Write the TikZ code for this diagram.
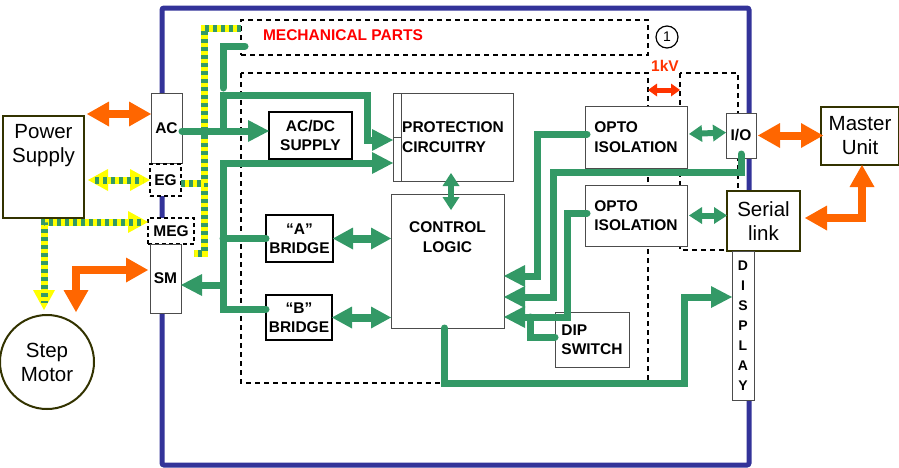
\documentclass[tikz,border=0pt]{standalone}
\usepackage{fontspec}
\setmainfont{Liberation Sans}
\usetikzlibrary{positioning, arrows.meta, calc}
\usepackage{xcolor}
\definecolor{framecol}{HTML}{333399}
\definecolor{flowcol}{HTML}{339966}
\definecolor{pwrcol}{HTML}{FF6600}
\definecolor{gndyel}{HTML}{FFFF00}
\definecolor{extcol}{HTML}{333300}
\definecolor{kvcol}{HTML}{FF3300}

\begin{document}
\begin{tikzpicture}[
    x=1pt, y=-1pt,
    every node/.style={font=\fontsize{15.5}{19.5}\selectfont\bfseries, inner sep=0pt, outer sep=0pt},
    blk/.style={
        draw=gray!60!black,
        fill=white,
        line width=0.8pt,
        anchor=north west,
    },
    bridge/.style={
        draw=black,
        fill=white,
        line width=1.6pt,
        anchor=north west,
        align=center,
    },
    gbox/.style={
        draw=black,
        fill=white,
        line width=1.2pt,
        dash pattern=on 4pt off 3pt,
        anchor=north west,
    },
    extbox/.style={
        draw=extcol,
        fill=white,
        line width=2pt,
        font=\fontsize{20.5}{24}\selectfont,
        align=center,
    },
    exttxt/.style={font=\fontsize{20.5}{24}\selectfont, align=center},
    zone/.style={draw=black, line width=1.2pt, dash pattern=on 5pt off 4pt},
    frame/.style={draw=framecol, line width=5pt, rounded corners=2pt},
    wire/.style={draw=flowcol, line width=7pt, line cap=round},
    flow/.style={wire, -{Triangle[length=21pt,width=22pt,line width=0pt]}},
    link/.style={draw=flowcol, line width=8pt,
        {Triangle[length=20pt,width=22pt,line width=0pt]}-{Triangle[length=20pt,width=22pt,line width=0pt]}},
    linksm/.style={draw=flowcol, line width=6pt,
        {Triangle[length=13pt,width=17pt,line width=0pt]}-{Triangle[length=13pt,width=17pt,line width=0pt]}},
    power/.style={draw=pwrcol, line width=8pt,
        {Triangle[length=22pt,width=25pt,line width=0pt]}-{Triangle[length=22pt,width=25pt,line width=0pt]}},
    gnd/.style={draw=gndyel, line width=7pt,
        postaction={draw=flowcol, dash pattern=on 4pt off 4pt}},
    gndarr/.style={draw=gndyel, line width=7pt,
        {Triangle[length=20pt,width=22pt,line width=0pt]}-{Triangle[length=20pt,width=22pt,line width=0pt]},
        postaction={draw=flowcol, dash pattern=on 4pt off 4pt, arrows=-, shorten <=7pt, shorten >=7pt}},
    kv/.style={draw=kvcol, line width=5pt,
        {Triangle[length=9pt,width=13pt,line width=0pt]}-{Triangle[length=9pt,width=13pt,line width=0pt]}},
]
\useasboundingbox (0,0) rectangle (899,467);

% outer housing
\draw[frame] (162,8) rectangle (749,465);

% dashed zones
\node[gbox, dash pattern=on 5pt off 4pt, minimum width=407pt, minimum height=35pt, fill=none] (mech) at (241,20) {};
\node[anchor=west, text=red] (mechtxt) at ([xshift=22pt,yshift=2pt]mech.west) {MECHANICAL PARTS};
\draw[zone] (241,73) rectangle (648,383);
\draw[zone] (680,73) rectangle (738,250);
\node[circle, draw, line width=1.2pt, minimum size=22pt, font=\fontsize{14}{16}\selectfont] (note) at (667,37) {1};
\node[text=kvcol] (kvtxt) at (665,66) {1kV};
\coordinate (isoL) at (648,90);
\coordinate (isoR) at (680,90);
\draw[kv] (isoL) -- (isoR);

% outside units
\node[extbox, anchor=north west, minimum width=81pt, minimum height=102pt] (ps) at (3,116) {};
\node[exttxt] (pstxt) at ($(ps.north)+(0,30)$) {Power\\Supply};
\node[extbox, circle, minimum size=94pt] (motor) at (47,362) {Step\\Motor};
\node[extbox, anchor=north west, minimum width=78pt, minimum height=58pt] (master) at (821,107) {Master\\Unit};
\node[extbox, anchor=north west, minimum width=73pt, minimum height=60pt] (serial) at (727,191) {Serial\\link};

% connectors on the housing
\node[blk, minimum width=31pt, minimum height=70pt] (ac) at (151,93) {AC};
\node[gbox, minimum width=31pt, minimum height=32pt] (eg) at (150,164) {EG};
\node[gbox, minimum width=46pt, minimum height=26pt] (meg) at (148,218) {MEG};
\node[blk, minimum width=31pt, minimum height=69pt] (sm) at (150,244) {SM};
\node[blk, minimum width=30pt, minimum height=45pt] (io) at (726,113) {I/O};
\node[blk, minimum width=22pt, minimum height=149pt, align=center, font=\fontsize{14}{20}\selectfont\bfseries] (disp) at (732,251) {D\\I\\S\\P\\L\\A\\Y};

% inner blocks
\node[bridge, minimum width=83pt, minimum height=47pt] (acdc) at (269,112) {AC/DC\\SUPPLY};
\node[blk, minimum width=120pt, minimum height=88pt, align=left] (prot) at (393,93) {PROTECTION\\CIRCUITRY};
\draw[gray!60!black, line width=0.8pt] ([xshift=8pt]prot.north west) -- ([xshift=8pt]prot.south west);
\draw[gray!60!black, line width=0.8pt] (prot.west) -- ([xshift=8pt]prot.west);
\node[blk, minimum width=113pt, minimum height=134pt] (ctrl) at (391,194) {};
\node[align=center] (ctrltxt) at ($(ctrl.north)+(0,43)$) {CONTROL\\LOGIC};
\node[bridge, minimum width=67pt, minimum height=47pt] (abr) at (266,215) {“A”\\BRIDGE};
\node[bridge, minimum width=66pt, minimum height=45pt] (bbr) at (266,295) {“B”\\BRIDGE};
\node[blk, minimum width=102pt, minimum height=62pt, align=left] (opto1) at (585,106) {OPTO\\ISOLATION};
\node[blk, minimum width=102pt, minimum height=61pt, align=left] (opto2) at (585,185) {OPTO\\ISOLATION};
\node[blk, minimum width=74pt, minimum height=55pt, align=left] (dip) at (555,312) {DIP\\SWITCH};

% grounding (striped)
\coordinate (gndtop) at ([yshift=-8pt]mech.north west);
\coordinate (gx) at (204,253);
\coordinate (gndend) at (194,253);
\coordinate (egout) at ([yshift=-3pt]eg.east);
\coordinate (megin) at ([yshift=9pt]meg.west);
\draw[gnd] (gndtop) -| (gx) -- (gndend);
\draw[gnd] (egout) -- (egout -| gx);
\draw[gndarr] ([xshift=4pt]ps.east |- eg.west) -- (eg.west);
\draw[gndarr] (megin) -| ([xshift=-3pt,yshift=5pt]motor.north);

% power and bus (orange)
\coordinate (acin) at ([yshift=14pt]ac.west);
\draw[power] ([xshift=3pt]ps.east |- acin) -- (acin);
\draw[power] ([xshift=2pt]io.east) -- ([xshift=2pt]io.east -| master.west);
\draw[power] ([xshift=5pt,yshift=3pt]serial.east) -| ([xshift=2pt]master.south);
\draw[power] ([xshift=-2pt,yshift=8.5pt]sm.west) -| ([xshift=29pt,yshift=3pt]motor.north);

% supply paths
\coordinate (acout) at ([yshift=-3pt]ac.east);
\coordinate (rail) at (223,95);
\coordinate (protbend) at (367,95);
\coordinate (bus) at (223,163);
\coordinate (smin) at ([yshift=-6.5pt]sm.east);
\draw[flow] (acout) -- (acout -| acdc.west);
\draw[flow] (rail |- acout) -- (rail) -- (protbend) |- ([yshift=-3pt]prot.west);
\draw[wire] ([xshift=4pt,yshift=-8.5pt]mech.west) -- ++(-22,0) -- ++(0,42);
\draw[flow] ([yshift=8.5pt]bbr.west) -| (bus) -- (bus -| prot.west);
\draw[wire] (abr.west) -- (abr.west -| bus);
\draw[flow] (bus |- smin) -- (smin);

% data links
\coordinate (pc) at ([xshift=-2pt]prot.south);
\draw[linksm] ([yshift=8pt]pc) -- ([yshift=-16pt]pc |- ctrl.north);
\draw[link] (abr.east) -- (abr.east -| ctrl.west);
\draw[link] (bbr.east) -- (bbr.east -| ctrl.west);
\draw[linksm] ([xshift=2pt,yshift=3pt]opto1.east) -- ([yshift=3pt]io.west);
\draw[linksm] ([xshift=2pt]opto2.east) -- (opto2.east -| serial.west);

% inputs to control logic
\coordinate (in1) at ([yshift=-15pt]ctrl.east);
\coordinate (in2) at ([yshift=-36pt]ctrl.east);
\coordinate (in3) at ([yshift=-56pt]ctrl.east);
\draw[flow] ([xshift=2pt,yshift=3pt]opto1.west) -| ([xshift=33pt]in1) -- (in1);
\draw[flow] ([yshift=4pt]io.south) -- ++(0,18) -| ([xshift=49pt]in2) -- (in2);
\draw[flow] ([xshift=2pt,yshift=2.5pt]opto2.west) -| ([xshift=63pt]in3) -- (in3);
\draw[wire] ([yshift=2.5pt]dip.west) -| ([xshift=26pt]in3);

% control logic to display
\coordinate (dispin) at ([yshift=28.5pt]disp.west);
\draw[flow] ([xshift=-3pt]ctrl.south) -- ++(0,55) -| ([xshift=-48pt]dispin) -- (dispin);

\end{tikzpicture}
\end{document}
